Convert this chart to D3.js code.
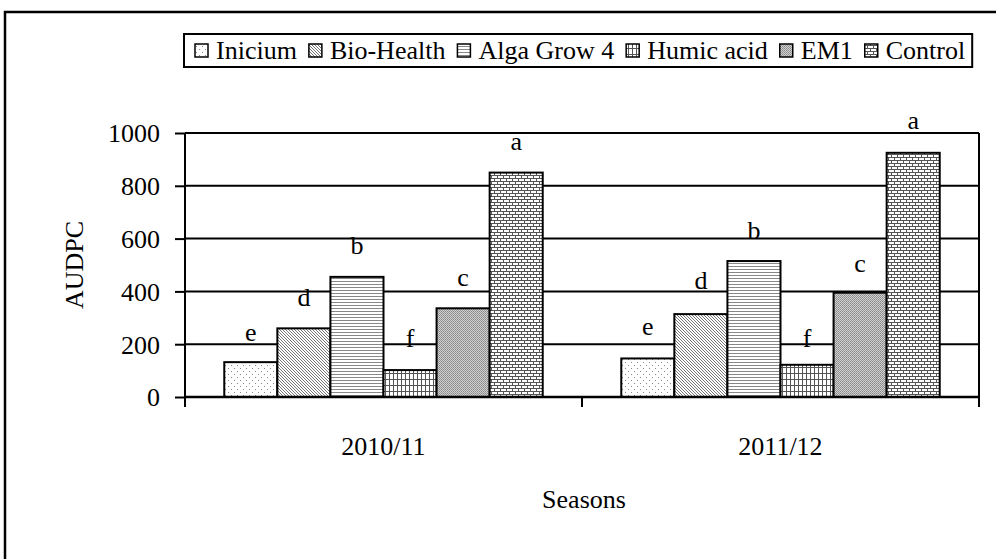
<!DOCTYPE html>
<html>
<head>
<meta charset="utf-8">
<script src="https://cdn.jsdelivr.net/npm/d3@7/dist/d3.min.js"></script>
<style>
  body { margin: 0; background: #fff; }
  text { font-family: "Liberation Serif", "Times New Roman", serif; fill: #000; }
</style>
</head>
<body>
<svg class="chart" width="996" height="559"></svg>
<script>
var seasons = ["2010/11", "2011/12"];
var treatments = ["Inicium", "Bio-Health", "Alga Grow 4", "Humic acid", "EM1", "Control"];
var audpc2010 = [132, 260, 455, 102, 336, 850];
var audpc2011 = [146, 314, 515, 122, 395, 925];
var letters2010 = ["e", "d", "b", "f", "c", "a"];
var letters2011 = ["e", "d", "b", "f", "c", "a"];
// where each letter's baseline sits, in AUDPC units
var letterAt2010 = [212, 345, 542, 189, 420, 935];
var letterAt2011 = [235, 409, 598, 189, 473, 1015];
var yTicks = [0, 200, 400, 600, 800, 1000];

(function() {
  var svg = d3.select(".chart");
  var margin = {top: 133, left: 185, right: 17, bottom: 162};
  var width = +svg.attr("width") - margin.left - margin.right,
      height = +svg.attr("height") - margin.top - margin.bottom;

  var rows = seasons.map(function(s, i) {
    var v = i === 0 ? audpc2010 : audpc2011,
        l = i === 0 ? letters2010 : letters2011,
        la = i === 0 ? letterAt2010 : letterAt2011;
    return {season: s, bars: treatments.map(function(t, j) {
      return {name: t, value: v[j], letter: l[j], letterAt: la[j]};
    })};
  });

  // fill patterns, one per treatment
  var defs = svg.append("defs");
  function pat(id, w, h) {
    var p = defs.append("pattern").attr("id", id)
      .attr("patternUnits", "userSpaceOnUse").attr("width", w).attr("height", h);
    p.append("rect").attr("width", w).attr("height", h).attr("fill", "#fff");
    return p;
  }
  function px(p, x, y, w, h, c) {
    p.append("rect").attr("x", x).attr("y", y).attr("width", w).attr("height", h).attr("fill", c);
  }
  var p;
  p = pat("p0", 6, 6);          // sparse dots
  px(p, 1, 1, 1, 1, "#888");
  px(p, 4, 4, 1, 1, "#888");

  p = pat("p1", 3, 3);          // fine diagonal
  px(p, 0, 0, 1, 1, "#777");
  px(p, 1, 1, 1, 1, "#777");
  px(p, 2, 2, 1, 1, "#777");

  p = pat("p2", 3, 3);          // horizontal lines
  px(p, 0, 1, 3, 1, "#888");

  p = pat("p3", 4, 6);          // small grid
  px(p, 0, 0, 1, 6, "#555");
  px(p, 0, 0, 4, 1, "#555");

  p = pat("p4", 2, 2);          // dense grey
  p.select("rect").attr("fill", "#d0d0d0");
  px(p, 0, 0, 1, 1, "#888");
  px(p, 1, 1, 1, 1, "#999");

  p = pat("p5", 6, 6);          // brick
  px(p, 0, 0, 6, 1, "#555");
  px(p, 0, 3, 6, 1, "#555");
  px(p, 0, 0, 1, 3, "#555");
  px(p, 3, 3, 1, 3, "#555");

  var fill = d3.scaleOrdinal().domain(treatments)
    .range(["url(#p0)", "url(#p1)", "url(#p2)", "url(#p3)", "url(#p4)", "url(#p5)"]);

  svg.append("rect").attr("width", 996).attr("height", 559).attr("fill", "#fff");

  // outer frame (runs off at right and bottom)
  svg.append("rect").attr("x", 5).attr("y", 12).attr("width", 1100).attr("height", 700)
    .attr("fill", "none").attr("stroke", "#000").attr("stroke-width", 2.5);

  var chart = svg.append("g")
    .attr("transform", "translate(" + margin.left + "," + margin.top + ")");

  var x0 = d3.scaleBand().domain(seasons).range([0, width]);
  var x1 = d3.scaleBand().domain(treatments).range([0, x0.bandwidth()])
    .paddingInner(0).paddingOuter(0.74);
  var y = d3.scaleLinear().domain([0, 1000]).range([height, 0]);

  // gridlines
  chart.append("g").selectAll("line")
    .data(yTicks.filter(function(d) { return d > 0; }))
    .enter().append("line")
    .attr("x1", 0).attr("x2", width)
    .attr("y1", function(d) { return y(d); })
    .attr("y2", function(d) { return y(d); })
    .attr("stroke", "#000").attr("stroke-width", 2);

  // plot area right border
  chart.append("line").attr("x1", width).attr("x2", width)
    .attr("y1", 0).attr("y2", height)
    .attr("stroke", "#000").attr("stroke-width", 2);

  var group = chart.selectAll(".season")
    .data(rows)
    .enter().append("g")
    .attr("class", "season")
    .attr("transform", function(d) { return "translate(" + x0(d.season) + ",0)"; });

  group.selectAll("rect")
    .data(function(d) { return d.bars; })
    .enter().append("rect")
    .attr("x", function(d) { return x1(d.name); })
    .attr("y", function(d) { return y(d.value); })
    .attr("width", x1.bandwidth())
    .attr("height", function(d) { return height - y(d.value); })
    .attr("fill", function(d) { return fill(d.name); })
    .attr("stroke", "#000").attr("stroke-width", 2);

  group.selectAll("text.letter")
    .data(function(d) { return d.bars; })
    .enter().append("text")
    .attr("class", "letter")
    .attr("x", function(d) { return x1(d.name) + x1.bandwidth() / 2; })
    .attr("y", function(d) { return y(d.letterAt); })
    .attr("text-anchor", "middle")
    .style("font-size", "26px")
    .text(function(d) { return d.letter; });

  // y axis
  var yAxis = d3.axisLeft(y).tickValues(yTicks).tickSize(10).tickPadding(15)
    .tickFormat(d3.format("d"));
  var yg = chart.append("g").call(yAxis).attr("font-family", null);
  yg.select(".domain").remove();
  yg.selectAll("line").attr("stroke", "#000").attr("stroke-width", 2);
  yg.selectAll("text").style("font-size", "26px").attr("dy", "0.34em");
  chart.append("line").attr("x1", 0).attr("x2", 0).attr("y1", 0).attr("y2", height + 10)
    .attr("stroke", "#000").attr("stroke-width", 2);

  // x axis
  var xg = chart.append("g").attr("transform", "translate(0," + height + ")");
  xg.append("line").attr("x1", 0).attr("x2", width)
    .attr("stroke", "#000").attr("stroke-width", 2.5);
  xg.selectAll("line.tick")
    .data(x0.domain().map(function(d) { return x0(d); }).concat([width]))
    .enter().append("line").attr("class", "tick")
    .attr("x1", function(d) { return d; }).attr("x2", function(d) { return d; })
    .attr("y1", 0).attr("y2", 10)
    .attr("stroke", "#000").attr("stroke-width", 2);
  xg.selectAll("text")
    .data(seasons)
    .enter().append("text")
    .attr("x", function(d) { return x0(d) + x0.bandwidth() / 2; })
    .attr("y", 58)
    .attr("text-anchor", "middle")
    .style("font-size", "26px")
    .text(function(d) { return d; });

  // axis titles
  svg.append("text")
    .attr("transform", "translate(83," + (margin.top + height / 2) + ") rotate(-90)")
    .attr("text-anchor", "middle")
    .style("font-size", "26px")
    .text("AUDPC");
  svg.append("text")
    .attr("x", margin.left + width / 2 + 2).attr("y", 508)
    .attr("text-anchor", "middle")
    .style("font-size", "26px")
    .text("Seasons");

  // legend
  var legend = svg.append("g");
  var lx = 195, ly = 59, lastEnd = lx;
  treatments.forEach(function(t) {
    legend.append("rect").attr("x", lx).attr("y", ly - 15)
      .attr("width", 13).attr("height", 13)
      .attr("fill", fill(t)).attr("stroke", "#000").attr("stroke-width", 1.5);
    var txt = legend.append("text").attr("x", lx + 21).attr("y", ly)
      .style("font-size", "26px").text(t);
    lastEnd = lx + 21 + txt.node().getComputedTextLength();
    lx = lastEnd + 12;
  });
  legend.insert("rect", ":first-child")
    .attr("x", 184).attr("y", 34)
    .attr("width", lastEnd + 7 - 184).attr("height", 33)
    .attr("fill", "#fff").attr("stroke", "#000").attr("stroke-width", 2);
})();
</script>
</body>
</html>
